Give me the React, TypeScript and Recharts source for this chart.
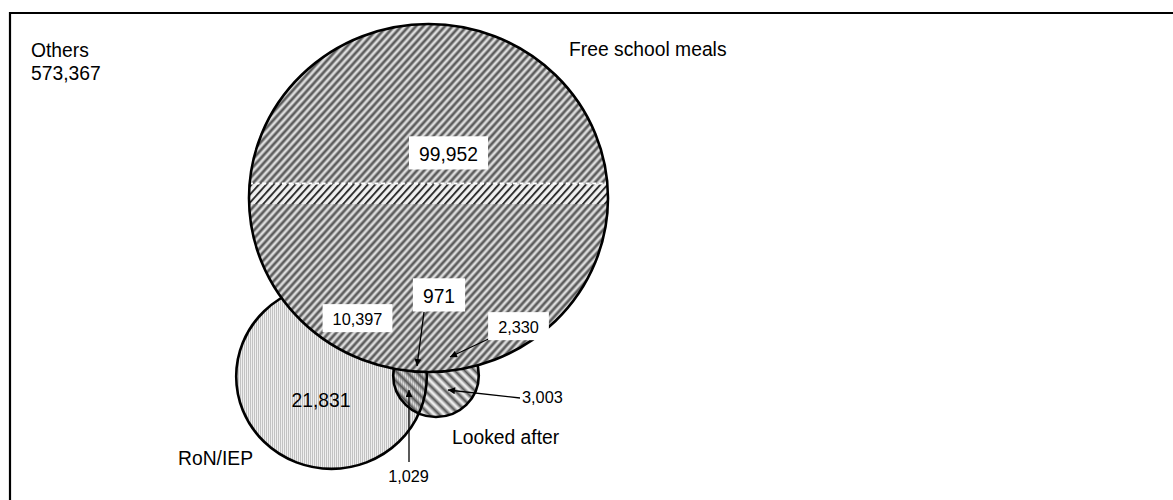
import React from 'react';
import { ScatterChart, Scatter, XAxis, YAxis, ReferenceArea } from 'recharts';

// ---------------- data ----------------
const setNames = ['Free school meals', 'RoN/IEP', 'Looked after'];
const othersName = 'Others';
const othersValue = 573367;
const regionNames = [
  'FSM only',
  'FSM & RoN/IEP',
  'All three',
  'FSM & Looked after',
  'RoN/IEP only',
  'RoN/IEP & Looked after',
  'Looked after only',
];
const regionValues = [99952, 10397, 971, 2330, 21831, 1029, 3003];

// ---------------- layout (chart units) ----------------
const CHART_W = 1173;
const CHART_H = 500;
const FONT = '"Liberation Sans", Arial, Helvetica, sans-serif';
const SQUASH = 0.969;
const BIG = 19.3;
const SMALL = 16.3;

const setCx = [428.5, 331.5, 436];
const setCy = [198, 376.5, 375.5];
const setR = [179.5, 95.3, 42.8];
const setLabelX = [569, 253, 452];
const setLabelY = [56, 465, 444];
const setLabelAnchor = ['start', 'end', 'start'];

const othersX = 31;
const othersY = [57, 80];

const regionLabelX = [448.5, 357.5, 439, 518.5, 321, 408.5, 522];
const regionLabelY = [161, 325, 303, 333, 407, 482, 403];
const regionLabelAnchor = ['middle', 'middle', 'middle', 'middle', 'middle', 'middle', 'start'];
const regionLabelSize = [BIG, SMALL, BIG, SMALL, BIG, SMALL, SMALL];
const regionLabelBox = [true, true, true, true, false, false, false];
const arrowFrom: (number[] | null)[] = [null, null, [424, 312], [497, 335], null, [409, 462], [520, 398]];
const arrowTo: (number[] | null)[] = [null, null, [417, 366], [450, 357], null, [409, 390], [448, 390]];

const fmt = (v: number) => v.toLocaleString('en-US');

const textWidth = (s: string, fs: number) => {
  let w = 0;
  for (const ch of s) {
    if (ch === ',' || ch === '.') w += 0.278;
    else w += 0.556;
  }
  return w * fs;
};

// ---------------- series data built from arrays ----------------
const setPoint = (i: number) => ({ x: setCx[i], y: setCy[i], r: setR[i], name: setNames[i], idx: i });
const ronData = [setPoint(1)];
const laData = [setPoint(2)];
const outlineData = [setPoint(1), setPoint(2)];
const fsmData = [setPoint(0)];

const arrowData = regionValues
  .map((v, i) => (arrowFrom[i] && arrowTo[i]
    ? { x: arrowFrom[i]![0], y: arrowFrom[i]![1], x2: arrowTo[i]![0], y2: arrowTo[i]![1], name: regionNames[i] }
    : null))
  .filter(Boolean) as any[];

const regionLabelData = regionValues.map((v, i) => ({
  x: regionLabelX[i],
  y: regionLabelY[i],
  text: fmt(v),
  fs: regionLabelSize[i],
  anchor: regionLabelAnchor[i],
  box: regionLabelBox[i],
  name: regionNames[i],
}));

const setLabelData = setNames.map((n, i) => ({
  x: setLabelX[i],
  y: setLabelY[i],
  text: n,
  fs: BIG,
  anchor: setLabelAnchor[i],
  box: false,
}));

const othersData = [
  { x: othersX, y: othersY[0], text: othersName, fs: BIG, anchor: 'start', box: false },
  { x: othersX, y: othersY[1], text: fmt(othersValue), fs: BIG, anchor: 'start', box: false },
];

const labelData = [...regionLabelData, ...setLabelData, ...othersData];

// ---------------- shapes ----------------
const Defs = () => (
  <defs>
    <linearGradient id="fsmGrad" x1="0" x2="1" y1="0" y2="0">
      <stop offset="0" stopColor="#fbfbfb" />
      <stop offset="0.5" stopColor="#3e3e3e" />
      <stop offset="1" stopColor="#fbfbfb" />
    </linearGradient>
    <pattern id="fsmPat" patternUnits="userSpaceOnUse" width="5.4" height="10" patternTransform="rotate(42)">
      <rect width="5.4" height="10" fill="url(#fsmGrad)" />
    </pattern>
    <pattern id="fsmSharp" patternUnits="userSpaceOnUse" width="5.4" height="10" patternTransform="rotate(42)">
      <rect width="5.4" height="10" fill="#f4f4f4" />
      <rect x="1.8" width="1.9" height="10" fill="#2a2a2a" />
    </pattern>
    <linearGradient id="laGrad" x1="0" x2="1" y1="0" y2="0">
      <stop offset="0" stopColor="#6a6a6a" stopOpacity="0" />
      <stop offset="0.5" stopColor="#555555" stopOpacity="1" />
      <stop offset="1" stopColor="#6a6a6a" stopOpacity="0" />
    </linearGradient>
    <pattern id="laPat" patternUnits="userSpaceOnUse" width="7" height="10" patternTransform="rotate(-45)">
      <rect width="7" height="10" fill="url(#laGrad)" />
    </pattern>
    <pattern id="ronPat" patternUnits="userSpaceOnUse" width="2" height="2">
      <rect width="2" height="2" fill="#efefef" />
      <rect width="1" height="2" fill="#c2c2c2" />
    </pattern>
    <clipPath id="fsmClip">
      <ellipse cx={setCx[0]} cy={setCy[0]} rx={setR[0]} ry={setR[0] * SQUASH} />
    </clipPath>
    <marker id="arrowHead" viewBox="0 0 10 10" refX="10" refY="5" markerWidth="9" markerHeight="7" markerUnits="userSpaceOnUse" orient="auto">
      <path d="M0,0 L10,5 L0,10 z" fill="#000" />
    </marker>
  </defs>
);

const RonFill = (p: any) => (
  <g>
    <Defs />
    <ellipse cx={p.cx} cy={p.cy} rx={p.payload.r} ry={p.payload.r * SQUASH} fill="url(#ronPat)" />
  </g>
);

const LaFill = (p: any) => (
  <ellipse cx={p.cx} cy={p.cy} rx={p.payload.r} ry={p.payload.r * SQUASH} fill="url(#laPat)" />
);

const Outline = (p: any) => (
  <ellipse cx={p.cx} cy={p.cy} rx={p.payload.r} ry={p.payload.r * SQUASH} fill="none" stroke="#000" strokeWidth={2.6} />
);

const FsmShape = (p: any) => {
  const rx = p.payload.r;
  const ry = rx * SQUASH;
  return (
    <g>
      <ellipse cx={p.cx} cy={p.cy} rx={rx} ry={ry} fill="url(#fsmPat)" />
      <g clipPath="url(#fsmClip)">
        <rect x={p.cx - rx} y={p.cy - 14} width={rx * 2} height={20} fill="url(#fsmSharp)" opacity={0.9} />
        <line x1={p.cx - rx} x2={p.cx + rx} y1={p.cy - 14.5} y2={p.cy - 14.5} stroke="#fff" strokeWidth={1.8} strokeDasharray="4 2.6" />
      </g>
      <ellipse cx={p.cx} cy={p.cy} rx={rx} ry={ry} fill="none" stroke="#000" strokeWidth={2.6} />
    </g>
  );
};

const ArrowShape = (p: any) => {
  const d = p.payload;
  return (
    <line
      x1={p.cx}
      y1={p.cy}
      x2={p.cx + (d.x2 - d.x)}
      y2={p.cy + (d.y2 - d.y)}
      stroke="#000"
      strokeWidth={1.3}
      markerEnd="url(#arrowHead)"
    />
  );
};

const LabelShape = (p: any) => {
  const d = p.payload;
  const w = textWidth(d.text, d.fs);
  const left = d.anchor === 'start' ? p.cx : d.anchor === 'end' ? p.cx - w : p.cx - w / 2;
  const pad = 10;
  return (
    <g>
      {d.box && (
        <rect
          x={left - pad}
          y={p.cy - d.fs * 1.28}
          width={w + pad * 2}
          height={d.fs * 1.72}
          fill="#fff"
        />
      )}
      <text x={p.cx} y={p.cy} textAnchor={d.anchor} fontSize={d.fs} fontFamily={FONT} fill="#000">
        {d.text}
      </text>
    </g>
  );
};

export default function App() {
  return (
    <div style={{ position: 'absolute', left: 0, top: 0 }}>
      <ScatterChart width={CHART_W} height={CHART_H} margin={{ top: 0, right: 0, bottom: 0, left: 0 }}>
        <XAxis type="number" dataKey="x" domain={[0, CHART_W]} hide />
        <YAxis type="number" dataKey="y" domain={[0, CHART_H]} reversed hide />
        <ReferenceArea
          x1={10}
          x2={1190}
          y1={13}
          y2={520}
          ifOverflow="visible"
          fill="none"
          fillOpacity={0}
          stroke="#000"
          strokeWidth={2.2}
        />
        <Scatter data={ronData} shape={RonFill} isAnimationActive={false} />
        <Scatter data={laData} shape={LaFill} isAnimationActive={false} />
        <Scatter data={outlineData} shape={Outline} isAnimationActive={false} />
        <Scatter data={fsmData} shape={FsmShape} isAnimationActive={false} />
        <Scatter data={arrowData} shape={ArrowShape} isAnimationActive={false} />
        <Scatter data={labelData} shape={LabelShape} isAnimationActive={false} />
      </ScatterChart>
    </div>
  );
}
